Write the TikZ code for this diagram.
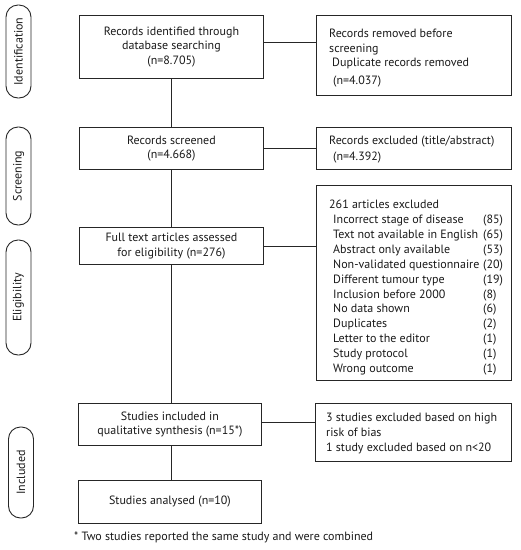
\documentclass[tikz,border=0pt]{standalone}
\usepackage{fontspec}
\setmainfont{PT Sans}
\begin{document}
\begin{tikzpicture}[x=1pt,y=-1pt,
  every node/.style={font=\fontsize{12}{14.6}\selectfont, text=black!90},
  box/.style={draw=black!85, line width=0.9pt, inner sep=0pt, anchor=north west},
  cbox/.style={box, align=center},
  txt/.style={anchor=north west, align=left, inner sep=0pt},
  phase/.style={draw=black!85, line width=0.9pt, rounded corners=12pt, rotate=90,
    minimum height=25pt, inner sep=0pt},
  link/.style={draw=black!85, line width=0.9pt}]
\useasboundingbox (0,0) rectangle (521,550);

% phase labels
\node[phase, minimum width=93pt] (pid) at (18.5,51.5) {Identification};
\node[phase, minimum width=98pt] (psc) at (18.5,176) {Screening};
\node[phase, minimum width=115pt] (pel) at (18.5,297.5) {Eligibility};
\node[phase, minimum width=91pt] (pin) at (21,472.5) {Included};

% main column
\node[cbox, minimum width=184pt, minimum height=63pt] (ident) at (79,15)
  {Records identified through\\database searching\\(n=8.705)};
\node[cbox, minimum width=184pt, minimum height=42pt] (scr) at (79,127)
  {Records screened\\(n=4.668)};
\node[cbox, minimum width=184pt, minimum height=37pt] (full) at (79,227)
  {Full text articles assessed\\for eligibility (n=276)};
\node[cbox, minimum width=183pt, minimum height=42pt] (incl) at (78,403)
  {Studies included in\\qualitative synthesis (n=15*)};
\node[cbox, minimum width=183pt, minimum height=43pt] (anal) at (78,480)
  {\raisebox{-3pt}{Studies analysed (n=10)}};

% right column
\node[box, minimum width=195pt, minimum height=80pt] (rem) at (316,15) {};
\node[txt] (remt) at (329,27.3)
  {\strut Records removed before\\screening\\\hspace{3pt}Duplicate records removed\\[3pt]\hspace{4pt}(n=4.037)};
\node[box, minimum width=195pt, minimum height=42pt] (exc) at (316,127) {};
\node[txt] (exct) at (329,134)
  {\strut Records excluded (title/abstract)\\[1.5pt]\hspace{4pt}(n=4.392)};
\node[box, minimum width=195pt, minimum height=195pt] (ful2) at (316,185) {};
\node[txt, font=\fontsize{12}{14.85}\selectfont] (ful2t) at (329,198.3)
  {\strut 261 articles excluded\\
   \hspace{4pt}\makebox[150pt][l]{Incorrect stage of disease}(85)\\
   \hspace{4pt}\makebox[150pt][l]{Text not available in English}(65)\\
   \hspace{4pt}\makebox[150pt][l]{Abstract only available}(53)\\
   \hspace{4pt}\makebox[150pt][l]{Non-validated questionnaire}(20)\\
   \hspace{4pt}\makebox[150pt][l]{Different tumour type}(19)\\
   \hspace{4pt}\makebox[150pt][l]{Inclusion before 2000}(8)\\
   \hspace{4pt}\makebox[150pt][l]{No data shown}(6)\\
   \hspace{4pt}\makebox[150pt][l]{Duplicates}(2)\\
   \hspace{4pt}\makebox[150pt][l]{Letter to the editor}(1)\\
   \hspace{4pt}\makebox[150pt][l]{Study protocol}(1)\\
   \hspace{4pt}\makebox[150pt][l]{Wrong outcome}(1)};
\node[box, minimum width=196pt, minimum height=58pt] (bias) at (315,403) {};
\node[txt] (biast) at (326,411.5)
  {\strut 3 studies excluded based on high\\risk of bias\\1 study excluded based on n<20};

\node[txt] (foot) at (74,530.5)
  {\strut * Two studies reported the same study and were combined};

% connectors
\draw[link] (ident.south) -- (ident.south |- scr.north);
\draw[link] (scr.south) -- (scr.south |- full.north);
\draw[link] (full.south) -- (full.south |- incl.north);
\draw[link] (incl.south -| full.south) -- (full.south |- anal.north);
\draw[link] ([yshift=4.5pt]ident.east) -- ([yshift=4.5pt]ident.east -| rem.west);
\draw[link] (scr.east) -- (scr.east -| exc.west);
\draw[link] (full.east) -- (full.east -| ful2.west);
\draw[link] ([yshift=2pt]incl.east) -- ([yshift=2pt]incl.east -| bias.west);
\end{tikzpicture}
\end{document}
